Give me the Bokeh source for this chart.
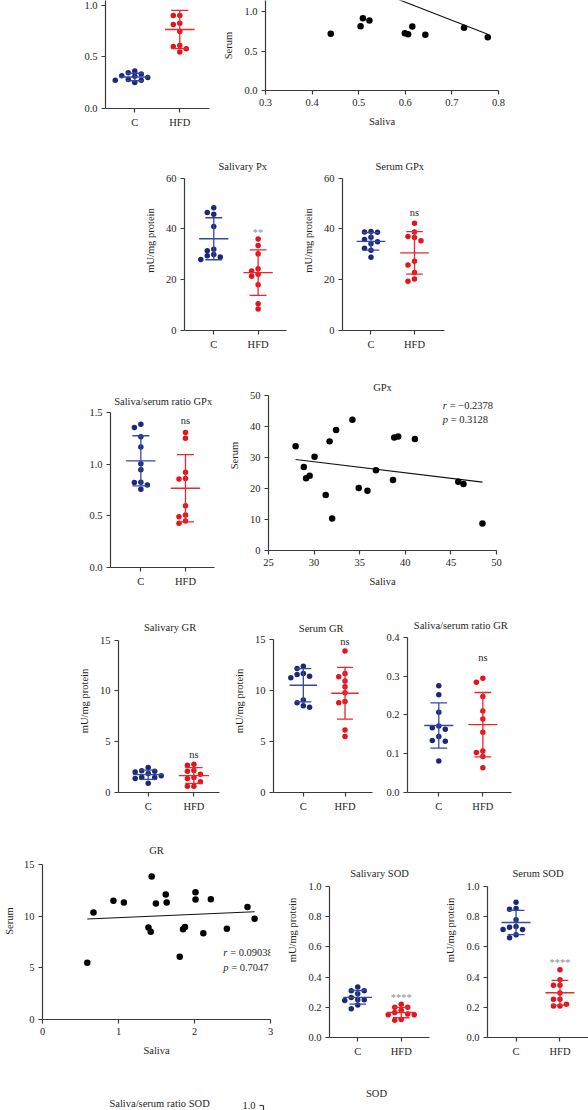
import numpy as np
from bokeh.plotting import figure
from bokeh.layouts import column, row
from bokeh.models import Range1d, FixedTicker, NumeralTickFormatter, Label
from bokeh.core.properties import value
from bokeh.embed import file_html
from bokeh.resources import INLINE

# ------------------------------------------------------------------ data
groups = ["C", "HFD"]
unit_label = "mU/mg protein"
saliva_label = "Saliva"
serum_label = "Serum"

# row 1 (top, partly cropped)
top_ratio_c = [0.363, 0.347, 0.334, 0.318, 0.311, 0.299, 0.280, 0.273, 0.273, 0.251]
top_ratio_hfd = [1.130, 0.900, 0.900, 0.826, 0.813, 0.745, 0.610, 0.600, 0.579, 0.546]
top_saliva = [0.440, 0.504, 0.509, 0.523, 0.599, 0.606, 0.615, 0.643, 0.726, 0.777]
top_serum = [0.720, 0.817, 0.919, 0.889, 0.728, 0.716, 0.813, 0.707, 0.796, 0.678]
top_fit = [2.5025, -2.30]          # intercept, slope

# GPx
px_saliva_c = [48.4, 46.5, 45.8, 41.0, 32.0, 31.4, 29.9, 29.4, 29.0, 28.0]
px_saliva_hfd = [36.0, 33.5, 30.2, 24.3, 23.4, 22.2, 21.4, 18.0, 10.5, 8.5]
gpx_serum_c = [39.0, 38.7, 38.8, 36.7, 35.8, 34.9, 34.1, 32.4, 31.6, 28.8]
gpx_serum_hfd = [42.2, 38.8, 37.0, 36.6, 35.3, 27.2, 25.8, 22.8, 20.3, 19.4]
gpx_ratio_c = [1.390, 1.357, 1.267, 1.169, 1.007, 0.949, 0.826, 0.823, 0.800, 0.758]
gpx_ratio_hfd = [1.309, 1.254, 0.923, 0.862, 0.858, 0.599, 0.509, 0.492, 0.450, 0.428]
gpx_saliva = [27.97, 28.87, 29.12, 29.51, 30.05, 31.27, 31.70, 31.98, 32.41, 34.20,
              34.89, 35.85, 36.78, 38.65, 38.79, 39.22, 41.05, 45.81, 46.38, 48.46]
gpx_serum = [33.66, 26.99, 23.33, 24.19, 30.32, 17.96, 35.27, 10.32, 38.92, 42.26,
             20.22, 19.35, 25.91, 22.80, 36.56, 36.88, 36.02, 22.26, 21.51, 8.71]
gpx_stats = ["\u22120.2378", "0.3128"]

# GR
gr_saliva_c = [2.46, 2.13, 2.10, 2.03, 1.87, 1.64, 1.51, 1.47, 1.38, 0.92]
gr_saliva_hfd = [2.78, 2.69, 2.16, 2.10, 1.80, 1.47, 1.38, 1.05, 0.62, 0.62]
gr_serum_c = [12.39, 12.19, 11.70, 11.60, 11.41, 11.27, 9.08, 8.82, 8.53, 8.37]
gr_serum_hfd = [13.89, 11.70, 11.37, 10.95, 10.39, 9.80, 8.95, 8.82, 6.14, 5.49]
gr_ratio_c = [0.275, 0.252, 0.207, 0.171, 0.167, 0.163, 0.144, 0.134, 0.132, 0.081]
gr_ratio_hfd = [0.294, 0.284, 0.247, 0.210, 0.189, 0.155, 0.107, 0.103, 0.093, 0.064]
gr_saliva = [0.589, 0.671, 0.933, 1.071, 1.394, 1.424, 1.437, 1.492, 1.622, 1.634,
             1.806, 1.849, 1.875, 2.013, 2.013, 2.116, 2.215, 2.426, 2.697, 2.791]
gr_serum = [5.50, 10.38, 11.51, 11.35, 8.92, 8.50, 13.87, 11.25, 12.12, 11.35,
            6.08, 8.76, 8.96, 12.35, 11.64, 8.37, 11.67, 8.79, 10.90, 9.76]
gr_stats = ["0.09038", "0.7047"]

# SOD
sod_saliva_c = [0.335, 0.310, 0.310, 0.290, 0.265, 0.250, 0.250, 0.245, 0.215, 0.190]
sod_saliva_hfd = [0.220, 0.200, 0.200, 0.180, 0.165, 0.155, 0.150, 0.150, 0.120, 0.115]
sod_serum_c = [0.895, 0.855, 0.850, 0.780, 0.735, 0.730, 0.715, 0.715, 0.680, 0.660]
sod_serum_hfd = [0.449, 0.383, 0.346, 0.346, 0.295, 0.253, 0.253, 0.220, 0.209, 0.209]

# ------------------------------------------------------------------ style
FONT = "Liberation Serif"
FS = "10.5px"
TXT = "#1e1e1e"
AXC = "#3a3a3a"
C_PT, H_PT = "#1b2878", "#e5131b"
C_LN, H_LN = "#3549a0", "#e8282d"
STAR = "#8c8c8c"


def style_axis(ax, label=None, label_standoff=7):
    ax.axis_line_color = AXC
    ax.axis_line_width = 1.2
    ax.major_tick_line_color = AXC
    ax.major_tick_line_width = 1.2
    ax.major_tick_out = 4
    ax.major_tick_in = 0
    ax.minor_tick_line_color = None
    ax.major_label_text_font = FONT
    ax.major_label_text_font_size = FS
    ax.major_label_text_color = TXT
    ax.major_label_standoff = 4
    ax.axis_label_text_font = FONT
    ax.axis_label_text_font_size = FS
    ax.axis_label_text_font_style = "normal"
    ax.axis_label_text_color = TXT
    ax.axis_label_standoff = label_standoff
    if label:
        ax.axis_label = label


def make_fig(w, h, bl, br, bb, xr, yr, xaxis=True, yaxis=True):
    kw = dict(width=w, height=h, x_range=Range1d(*xr), y_range=Range1d(*yr),
              output_backend="svg", toolbar_location=None,
              min_border_left=bl, min_border_right=br,
              min_border_top=0, min_border_bottom=bb)
    if not xaxis:
        kw["x_axis_location"] = None
    if not yaxis:
        kw["y_axis_location"] = None
    p = figure(**kw)
    p.outline_line_color = None
    p.grid.visible = False
    p.background_fill_color = "white"
    p.border_fill_color = "white"
    return p


def add_title(p, text, x, y, gap, dx=0):
    p.add_layout(Label(x=x, y=y, x_offset=dx, y_offset=gap, text=text,
                       text_align="center", text_baseline="middle", text_font=FONT,
                       text_font_size=FS, text_color=TXT))


def vgeom(T, a0, atop, ymax, B):
    """frame runs from band top T down to the zero line a0; top tick sits at atop."""
    ppu = (a0 - atop) / ymax
    h = int(round(a0 - T + B))
    return h, (0, (a0 - T) / ppu), ppu


def swarm(vals, ppu, spx, diam=5.0, step=6.5):
    v = np.asarray(vals, float)
    order = np.argsort(-v, kind="stable")
    cols = {}
    offs = np.zeros(len(v))
    for i in order:
        y = v[i] * ppu
        for k in (0, -1, 1, -2, 2, -3, 3, -4, 4):
            if all(abs(y - py) >= diam for py in cols.get(k, [])):
                cols.setdefault(k, []).append(y)
                offs[i] = k * step / spx
                break
    return offs


def group_panel(w, bl, br, T, a0, atop, ymax, B, xr, yticks, c_vals, h_vals,
                title=None, tgap=12, tdx=0, ylabel=None, sig=None, sig_gap=10,
                sig_color=TXT, dec=False, ybound=None):
    h, yr, ppu = vgeom(T, a0, atop, ymax, B)
    p = make_fig(w, h, bl, br, B, xr, yr)
    style_axis(p.xaxis[0])
    style_axis(p.yaxis[0], ylabel)
    p.xaxis.ticker = FixedTicker(ticks=[1, 2])
    p.xaxis.major_label_overrides = {1: groups[0], 2: groups[1]}
    p.yaxis.ticker = FixedTicker(ticks=yticks)
    p.yaxis.bounds = (0, ybound if ybound is not None else ymax)
    if dec:
        p.yaxis.formatter = NumeralTickFormatter(format="0.0")
    spx = (w - bl - br) / (xr[1] - xr[0])
    for xc, vals, pc, lc in ((1, c_vals, C_PT, C_LN), (2, h_vals, H_PT, H_LN)):
        v = np.asarray(vals, float)
        offs = swarm(v, ppu, spx)
        m, s = v.mean(), v.std(ddof=1)
        p.scatter(xc + offs, v, size=5.5, fill_color=pc, line_color=None)
        p.segment(x0=[xc - 0.33, xc - 0.19, xc - 0.19, xc],
                  y0=[m, m + s, m - s, m - s],
                  x1=[xc + 0.33, xc + 0.19, xc + 0.19, xc],
                  y1=[m, m + s, m - s, m + s],
                  line_color=lc, line_width=1.3)
    if sig:
        hv = np.asarray(h_vals, float)
        top = max(hv.max(), hv.mean() + hv.std(ddof=1))
        p.text(x=[2], y=[top], text=[sig], text_align="center", text_baseline="middle",
               y_offset=-sig_gap, text_font=value(FONT), text_font_size=FS,
               text_color=sig_color)
    if title:
        add_title(p, title, 1.5, ymax, tgap, tdx)
    return p


def corr_panel(w, bl, br, T, a0, atop, ymax, B, xr, xticks, yticks, xs, ys,
               fit=None, title=None, tgap=12, ylabel=serum_label, xdec=False,
               ydec=False, ann=None, ybound=None, ylabel_standoff=7):
    h, yr, ppu = vgeom(T, a0, atop, ymax, B)
    p = make_fig(w, h, bl, br, B, xr, yr)
    style_axis(p.xaxis[0], saliva_label)
    style_axis(p.yaxis[0], ylabel, ylabel_standoff)
    p.xaxis.ticker = FixedTicker(ticks=xticks)
    p.yaxis.ticker = FixedTicker(ticks=yticks)
    p.yaxis.bounds = (0, ybound if ybound is not None else ymax)
    if xdec:
        p.xaxis.formatter = NumeralTickFormatter(format="0.0")
    if ydec:
        p.yaxis.formatter = NumeralTickFormatter(format="0.0")
    xs = np.asarray(xs, float)
    ys = np.asarray(ys, float)
    if fit is None:
        slope, intercept = np.polyfit(xs, ys, 1)
    else:
        intercept, slope = fit
    lx = np.array([xs.min(), xs.max()])
    p.line(lx, intercept + slope * lx, line_color="#111111", line_width=1.1)
    p.scatter(xs, ys, size=6.5, fill_color="black", line_color=None)
    if ann:
        ax_, ay1, ay2, rtxt, ptxt = ann
        for sym, rest, yy, off in (("r", "= " + rtxt, ay1, 7), ("p", "= " + ptxt, ay2, 8)):
            p.add_layout(Label(x=ax_, y=yy, text=sym, text_font=FONT, text_font_size=FS,
                               text_font_style="italic", text_color=TXT,
                               text_baseline="middle"))
            p.add_layout(Label(x=ax_, y=yy, x_offset=off, text=rest, text_font=FONT,
                               text_font_size=FS, text_color=TXT, text_baseline="middle"))
    if title:
        add_title(p, title, (xr[0] + xr[1]) / 2, ymax, tgap)
    return p


# ------------------------------------------------------------------ panels
# band A (cropped top row)  top 0
pA1 = group_panel(220, 105, 11, 0, 108, 4.7, 1.0, 42, (0.35, 2.66), [0, 0.5, 1.0],
                  top_ratio_c, top_ratio_hfd, dec=True, ybound=1.5)
pA2 = corr_panel(368, 43, 90, 0, 90, 11.3, 1.0, 42, (0.3, 0.8),
                 [0.3, 0.4, 0.5, 0.6, 0.7, 0.8], [0, 0.5, 1.0],
                 top_saliva, top_serum, fit=top_fit, xdec=True, ydec=True, ybound=1.5)

# band B  top 150
pB1 = group_panel(298, 184, 12, 150, 330, 177.7, 60, 30, (0.34, 2.64), [0, 20, 40, 60],
                  px_saliva_c, px_saliva_hfd, title="Salivary Px", tgap=11.7, tdx=6.8,
                  ylabel=unit_label, sig="**", sig_gap=7, sig_color=STAR)
pB2 = group_panel(290, 44, 144, 150, 330, 177.5, 60, 30, (0.345, 2.69), [0, 20, 40, 60],
                  gpx_serum_c, gpx_serum_hfd, title="Serum GPx", tgap=11.5, tdx=7,
                  ylabel=unit_label, sig="ns", sig_gap=11)

# band C  top 360
pC1 = group_panel(225, 110, 11, 360, 567, 412.3, 1.5, 42, (0.32, 2.65),
                  [0, 0.5, 1.0, 1.5], gpx_ratio_c, gpx_ratio_hfd,
                  title="Saliva/serum ratio GPx", tgap=11.6, sig="ns", sig_gap=12,
                  dec=True)
pC2 = corr_panel(363, 38, 92, 360, 550, 395.3, 50, 42, (25, 50),
                 [25, 30, 35, 40, 45, 50], [0, 10, 20, 30, 40, 50],
                 gpx_saliva, gpx_serum, title="GPx", tgap=8.6,
                 ann=(44.1, 46.9, 42.35, gpx_stats[0], gpx_stats[1]))

# band D  top 609
pD1 = group_panel(230, 118, 11, 609, 792, 639.7, 15, 30, (0.35, 2.56), [0, 5, 10, 15],
                  gr_saliva_c, gr_saliva_hfd, title="Salivary GR", tgap=13, tdx=-1,
                  ylabel=unit_label, sig="ns", sig_gap=10)
pD2 = group_panel(150, 39, 8, 609, 792, 639.3, 15, 30, (0.284, 2.66), [0, 5, 10, 15],
                  gr_serum_c, gr_serum_hfd, title="Serum GR", tgap=11, tdx=-3,
                  ylabel=unit_label, sig="ns", sig_gap=9.5)
pD3 = group_panel(208, 27, 77, 609, 792, 636.7, 0.4, 30, (0.29, 2.65),
                  [0, 0.1, 0.2, 0.3, 0.4], gr_ratio_c, gr_ratio_hfd,
                  title="Saliva/serum ratio GR", tgap=11.7, sig="ns", sig_gap=21,
                  dec=True)

# band E  top 822
pE1 = corr_panel(280, 38, 10, 822, 1019, 864.3, 15, 42, (0, 3), [0, 1, 2, 3],
                 [0, 5, 10, 15], gr_saliva, gr_serum, title="GR", tgap=14.3,
                 ann=(2.377, 6.49, 5.09, gr_stats[0], gr_stats[1]), ylabel_standoff=6)
pE2 = group_panel(160, 49, 11, 822, 1037, 886, 1.0, 42, (0.35, 2.65),
                  [0, 0.2, 0.4, 0.6, 0.8, 1.0], sod_saliva_c, sod_saliva_hfd,
                  title="Salivary SOD", tgap=13.3, ylabel=unit_label, sig="****",
                  sig_gap=7, sig_color=STAR, dec=True)
pE3 = group_panel(148, 47, 0, 822, 1037, 886, 1.0, 42, (0.35, 2.65),
                  [0, 0.2, 0.4, 0.6, 0.8, 1.0], sod_serum_c, sod_serum_hfd,
                  title="Serum SOD", tgap=13.3, ylabel=unit_label, sig="****",
                  sig_gap=7, sig_color=STAR, dec=True)

# band F (cropped bottom row)  top 1079, height 31
F_T, F_H = 1079, 31
pF1 = make_fig(225, F_H, 0, 0, 0, (0, 1), (0, 1), xaxis=False, yaxis=False)
pF1.add_layout(Label(x=0.707, y=0.23, text="Saliva/serum ratio SOD", text_align="center",
                     text_baseline="middle", text_font=FONT, text_font_size=FS,
                     text_color=TXT))
f_ppu = 151.3
f_top_tick = 1105
pF2 = make_fig(363, F_H, 38, 99, 0, (0, 1),
               (1.0 - (F_T + F_H - f_top_tick) / f_ppu, 1.0 + (f_top_tick - F_T) / f_ppu),
               xaxis=False)
style_axis(pF2.yaxis[0])
pF2.yaxis.ticker = FixedTicker(ticks=[1.0])
pF2.yaxis.formatter = NumeralTickFormatter(format="0.0")
pF2.yaxis.bounds = (0, 1.0)
add_title(pF2, "SOD", 0.5, 1.0, 12)

layout = column(
    row(pA1, pA2),
    row(pB1, pB2),
    row(pC1, pC2),
    row(pD1, pD2, pD3),
    row(pE1, pE2, pE3),
    row(pF1, pF2),
)

open("out.html", "w").write(file_html(layout, INLINE))
